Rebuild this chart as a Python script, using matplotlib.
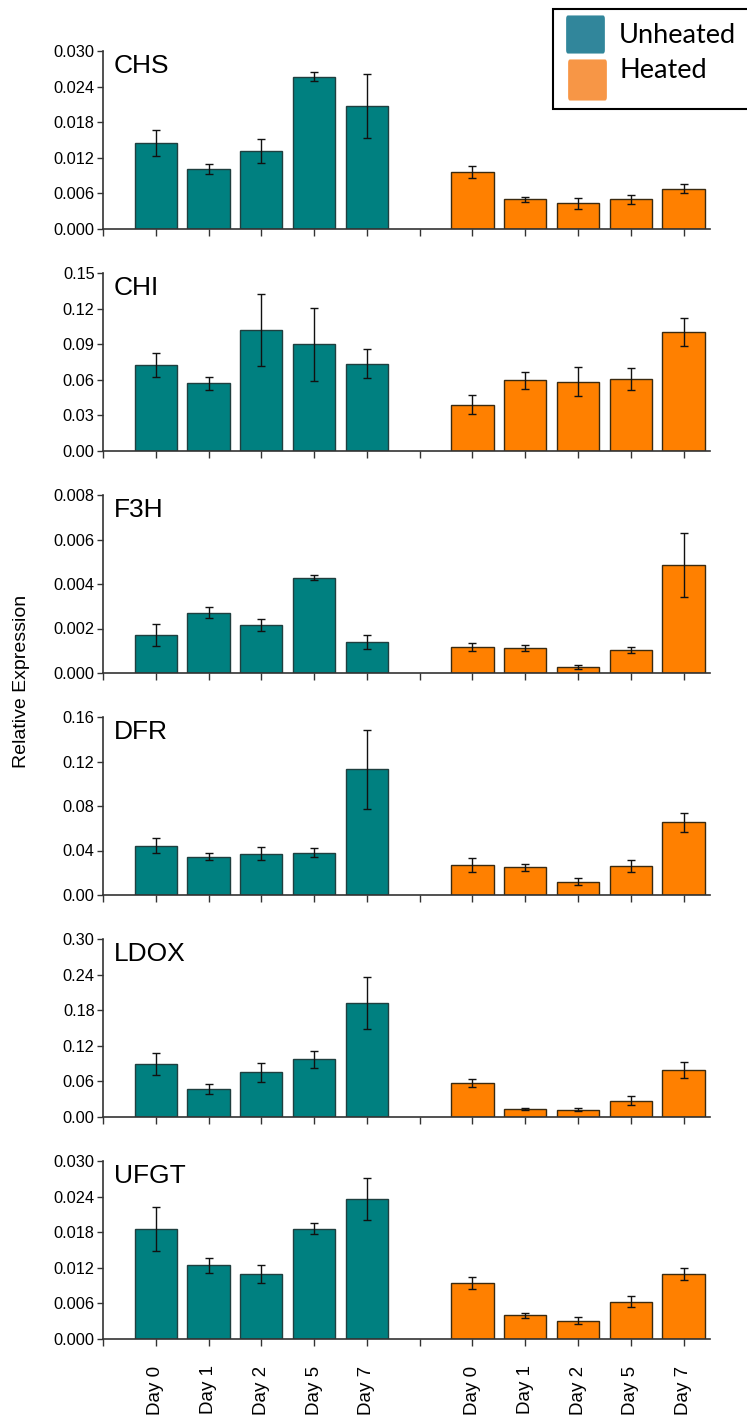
import matplotlib
matplotlib.use("Agg")
import matplotlib.pyplot as plt
from matplotlib.patches import Rectangle, FancyBboxPatch

plt.rcParams['font.family'] = ['Liberation Sans', 'DejaVu Sans']

# ---- data ----
days = ['Day 0', 'Day 1', 'Day 2', 'Day 5', 'Day 7']
genes = ['CHS', 'CHI', 'F3H', 'DFR', 'LDOX', 'UFGT']
ymax = [0.030, 0.15, 0.008, 0.16, 0.30, 0.030]
ysteps = [5, 5, 4, 4, 5, 5]
yfmt = ['%.3f', '%.2f', '%.3f', '%.2f', '%.2f', '%.3f']

unheated = [
    [0.0145, 0.0101, 0.0131, 0.0257, 0.0207],
    [0.0723, 0.0571, 0.1019, 0.0898, 0.0737],
    [0.00170, 0.00270, 0.00216, 0.00428, 0.00140],
    [0.0442, 0.0346, 0.0370, 0.0379, 0.1131],
    [0.0893, 0.0472, 0.0753, 0.0972, 0.1921],
    [0.0185, 0.0124, 0.0110, 0.0186, 0.0236],
]
unheated_err = [
    [0.0022, 0.0009, 0.0020, 0.0008, 0.0054],
    [0.0103, 0.0056, 0.0306, 0.0310, 0.0124],
    [0.00050, 0.00025, 0.00025, 0.00012, 0.00030],
    [0.0066, 0.0030, 0.0059, 0.0039, 0.0355],
    [0.0190, 0.0084, 0.0155, 0.0138, 0.0440],
    [0.0037, 0.0012, 0.0015, 0.0009, 0.0035],
]
heated = [
    [0.0096, 0.0050, 0.0043, 0.0050, 0.0068],
    [0.0391, 0.0597, 0.0585, 0.0608, 0.0999],
    [0.00117, 0.00113, 0.00027, 0.00104, 0.00486],
    [0.0271, 0.0250, 0.0120, 0.0262, 0.0653],
    [0.0573, 0.0135, 0.0124, 0.0275, 0.0792],
    [0.0094, 0.0040, 0.0031, 0.0063, 0.0109],
]
heated_err = [
    [0.0010, 0.0004, 0.0009, 0.0008, 0.0008],
    [0.0083, 0.0071, 0.0125, 0.0090, 0.0118],
    [0.00016, 0.00015, 0.00007, 0.00014, 0.00143],
    [0.0066, 0.0032, 0.0030, 0.0054, 0.0085],
    [0.0062, 0.0020, 0.0025, 0.0080, 0.0130],
    [0.0010, 0.0004, 0.0006, 0.0009, 0.0010],
]

# ---- figure ----
W, H = 747, 1421
fig = plt.figure(figsize=(W / 100, H / 100), dpi=100)

def fx(px):
    return px / W

def fy(px):
    return 1 - px / H

pos_u = [1, 2, 3, 4, 5]
pos_h = [7, 8, 9, 10, 11]
teal = '#008080'
orange = '#FF8000'

for i, gene in enumerate(genes):
    top_px = 51 + i * 222.0
    ax = fig.add_axes([fx(103), fy(top_px + 178), fx(607), 178 / H])
    ax.bar(pos_u, unheated[i], width=0.8, color=teal, edgecolor='#1f3f3f',
           linewidth=1.0, zorder=2)
    ax.bar(pos_h, heated[i], width=0.8, color=orange, edgecolor='#3a2a10',
           linewidth=1.0, zorder=2)
    ax.errorbar(pos_u, unheated[i], yerr=unheated_err[i], fmt='none',
                ecolor='#111111', elinewidth=1.0, capsize=3, capthick=1.0, zorder=3)
    ax.errorbar(pos_h, heated[i], yerr=heated_err[i], fmt='none',
                ecolor='#111111', elinewidth=1.0, capsize=3, capthick=1.0, zorder=3)

    ax.set_xlim(0, 11.5)
    ax.set_ylim(0, ymax[i])
    n = ysteps[i]
    ticks = [ymax[i] * k / n for k in range(n + 1)]
    ax.set_yticks(ticks)
    ax.set_yticklabels([yfmt[i] % t for t in ticks], fontsize=11.8)
    ax.set_xticks(range(12))
    if i == len(genes) - 1:
        ax.set_xticklabels([''] + days + [''] + days, rotation=90,
                           fontsize=13.5, va='top')
        ax.tick_params(axis='x', pad=14)
    else:
        ax.set_xticklabels([])

    for s in ['top', 'right']:
        ax.spines[s].set_visible(False)
    for s in ['left', 'bottom']:
        ax.spines[s].set_color('#333333')
        ax.spines[s].set_linewidth(1.2)
    ax.tick_params(axis='y', direction='out', length=4, width=1.0,
                   color='#333333', pad=2)
    ax.tick_params(axis='x', direction='out', length=5, width=1.0,
                   color='#333333')

    ax.text(0.018, 0.985, gene, transform=ax.transAxes, ha='left', va='top',
            fontsize=19)

fig.text(fx(22), fy(681), 'Relative Expression', rotation=90,
         ha='center', va='center', fontsize=14)

# ---- legend box ----
fig.add_artist(Rectangle((fx(553), fy(109)), fx(200), 100 / H,
                         transform=fig.transFigure, facecolor='white',
                         edgecolor='black', linewidth=1.5, clip_on=False))
fig.add_artist(FancyBboxPatch((fx(568), fy(50)), fx(35), 31 / H,
                              boxstyle='round,pad=0.0025', transform=fig.transFigure,
                              facecolor='#31869B', edgecolor='none'))
fig.add_artist(FancyBboxPatch((fx(570), fy(97)), fx(35), 34 / H,
                              boxstyle='round,pad=0.0025', transform=fig.transFigure,
                              facecolor='#F79646', edgecolor='none'))
fig.text(fx(619), fy(43), 'Unheated', ha='left', va='baseline', fontsize=19.5,
         family=['Lato', 'DejaVu Sans'])
fig.text(fx(619), fy(78), 'Heated', ha='left', va='baseline', fontsize=19.5,
         family=['Lato', 'DejaVu Sans'])

fig.savefig('out.png', dpi=100)
